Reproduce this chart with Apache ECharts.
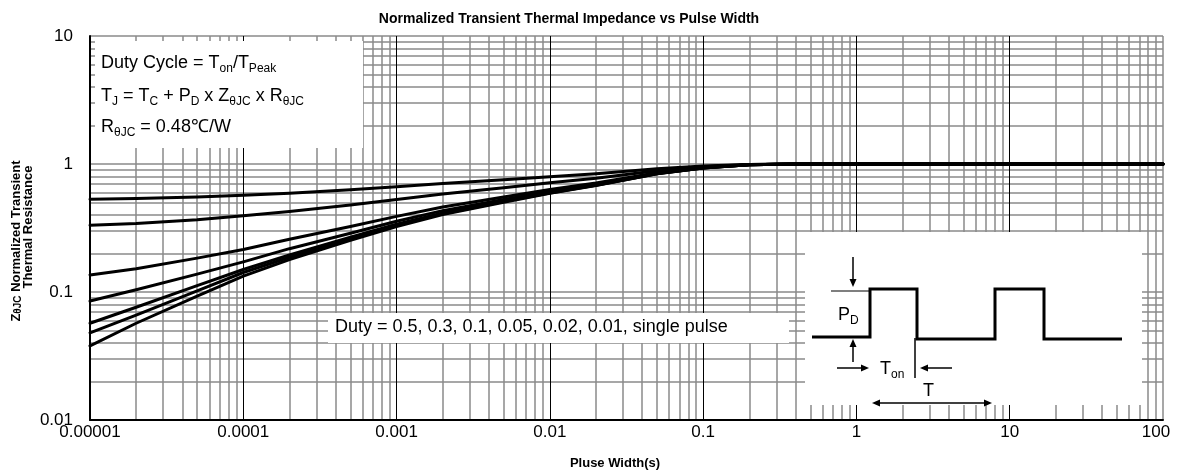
<!DOCTYPE html>
<html>
<head>
<meta charset="utf-8">
<title>Normalized Transient Thermal Impedance vs Pulse Width</title>
<script src="https://cdn.jsdelivr.net/npm/echarts@6/dist/echarts.min.js"></script>
<style>
  html, body { margin: 0; padding: 0; background: #fff; }
  #chart { width: 1184px; height: 475px; }
</style>
</head>
<body>
<div id="chart"></div>
<script>
const FONT = '"Liberation Sans", Arial, Helvetica, sans-serif';

// Pulse width (s) sample points
const pulseWidth = [1e-5, 2e-5, 5e-5, 1e-4, 2e-4, 5e-4, 1e-3, 2e-3, 5e-3, 1e-2, 2e-2, 5e-2, 0.1, 0.2, 0.4, 1, 10, 100];

// Normalized Z(thJC) for each duty cycle
const duty05  = [0.530, 0.537, 0.553, 0.570, 0.592, 0.628, 0.665, 0.703, 0.752, 0.795, 0.840, 0.920, 0.965, 0.993, 1, 1, 1, 1];
const duty03  = [0.332, 0.343, 0.367, 0.395, 0.426, 0.478, 0.528, 0.582, 0.652, 0.713, 0.775, 0.887, 0.951, 0.990, 1, 1, 1, 1];
const duty01  = [0.136, 0.152, 0.184, 0.215, 0.258, 0.325, 0.390, 0.462, 0.553, 0.631, 0.710, 0.854, 0.937, 0.987, 1, 1, 1, 1];
const duty005 = [0.085, 0.104, 0.138, 0.172, 0.218, 0.288, 0.357, 0.432, 0.528, 0.611, 0.694, 0.846, 0.934, 0.986, 1, 1, 1, 1];
const duty002 = [0.057, 0.076, 0.112, 0.150, 0.195, 0.268, 0.339, 0.415, 0.513, 0.598, 0.684, 0.841, 0.931, 0.985, 1, 1, 1, 1];
const duty001 = [0.048, 0.066, 0.102, 0.142, 0.187, 0.260, 0.332, 0.409, 0.508, 0.594, 0.681, 0.840, 0.931, 0.985, 1, 1, 1, 1];
const singlePulse = [0.038, 0.057, 0.093, 0.133, 0.179, 0.253, 0.325, 0.403, 0.503, 0.590, 0.678, 0.838, 0.930, 0.985, 1, 1, 1, 1];

const seriesNames = ['0.5', '0.3', '0.1', '0.05', '0.02', '0.01', 'single pulse'];
const seriesValues = [duty05, duty03, duty01, duty005, duty002, duty001, singlePulse];

// Tick labels
const xTickLabels = ['0.00001', '0.0001', '0.001', '0.01', '0.1', '1', '10', '100'];
const yTickLabels = ['0.01', '0.1', '1', '10'];

// Log-paper grid: 2..9 within every decade
const xDecades = [1e-5, 1e-4, 1e-3, 1e-2, 1e-1, 1, 10];
const yDecades = [0.01, 0.1, 1];
const grayX = [];
xDecades.forEach(d => { for (let k = 2; k <= 9; k++) grayX.push(k * d); });
grayX.push(100);
const grayY = [];
yDecades.forEach(d => { for (let k = 1; k <= 9; k++) if (d * k > 0.01) grayY.push(k * d); });
grayY.push(10);
const blackX = [1e-4, 1e-3, 1e-2, 1e-1, 1, 10];

const chart = echarts.init(document.getElementById('chart'), null, { renderer: 'canvas' });

const curveSeries = seriesValues.map((vals, i) => ({
  type: 'line',
  name: seriesNames[i],
  data: pulseWidth.map((x, j) => [x, vals[j]]),
  symbol: 'none',
  smooth: false,
  silent: true,
  z: 5,
  lineStyle: { color: '#000', width: 3, join: 'round', cap: 'round' }
}));

function gridLineSeries(xs, ys, color, width) {
  return {
    type: 'line',
    data: [],
    silent: true,
    z: 1,
    markLine: {
      silent: true,
      precision: 12,
      symbol: ['none', 'none'],
      label: { show: false },
      emphasis: { disabled: true },
      animation: false,
      lineStyle: { color: color, width: width, type: 'solid' },
      data: xs.map(v => ({ xAxis: v })).concat(ys.map(v => ({ yAxis: v })))
    }
  };
}

// Subscript rich styles
const richMain = {
  n: { fontSize: 18, fontFamily: FONT, color: '#000', lineHeight: 24 },
  s: { fontSize: 12, fontFamily: FONT, color: '#000', lineHeight: 12, verticalAlign: 'bottom' }
};

function txt(x, y, text, extra) {
  return Object.assign({
    type: 'text', x: x, y: y, z: 60,
    style: { text: text, rich: richMain, align: 'left', verticalAlign: 'middle', fill: '#000' }
  }, extra || {});
}
function seg(points, width) {
  return { type: 'polyline', z: 60, shape: { points: points }, style: { stroke: '#000', lineWidth: width, fill: null } };
}
function head(points) {
  return { type: 'polygon', z: 60, shape: { points: points }, style: { fill: '#000', stroke: null } };
}

const graphics = [
  // note boxes
  { type: 'rect', z: 50, shape: { x: 95, y: 41, width: 268, height: 107 }, style: { fill: '#fff' } },
  { type: 'rect', z: 50, shape: { x: 328, y: 313, width: 461, height: 30 }, style: { fill: '#fff' } },
  { type: 'rect', z: 50, shape: { x: 805, y: 232, width: 337, height: 173 }, style: { fill: '#fff' } },

  txt(101, 63, '{n|Duty Cycle = T}{s|on}{n|/T}{s|Peak}'),
  txt(101, 96, '{n|T}{s|J}{n| = T}{s|C}{n| + P}{s|D}{n| x Z}{s|θJC}{n| x R}{s|θJC}'),
  txt(101, 127, '{n|R}{s|θJC}{n| = 0.48℃/W}'),
  txt(335, 327, '{n|Duty = 0.5, 0.3, 0.1, 0.05, 0.02, 0.01, single pulse}'),

  // pulse train sketch
  seg([[812, 337], [870, 337], [870, 289], [917, 289], [917, 339], [995, 339], [995, 289], [1044, 289], [1044, 339], [1122, 339]], 3),
  seg([[831, 291], [870, 291]], 1.2),
  seg([[915, 338], [915, 378]], 1.5),
  seg([[853, 257], [853, 280]], 1.5), head([[853, 287], [849.5, 279], [856.5, 279]]),
  seg([[853, 362], [853, 346]], 1.5), head([[853, 339], [849.5, 347], [856.5, 347]]),
  seg([[837, 368], [861, 368]], 1.5), head([[869, 368], [861, 364.5], [861, 371.5]]),
  seg([[952, 368], [928, 368]], 1.5), head([[920, 368], [928, 364.5], [928, 371.5]]),
  seg([[880, 403], [984, 403]], 1.5),
  head([[872, 403], [880, 399.5], [880, 406.5]]),
  head([[992, 403], [984, 399.5], [984, 406.5]]),
  txt(838, 315, '{n|P}{s|D}'),
  txt(880, 369, '{n|T}{s|on}'),
  txt(923, 391, '{n|T}'),

  // axis titles
  {
    type: 'text', x: 16, y: 241, rotation: Math.PI / 2, z: 60,
    style: {
      text: '{b|Z}{bs|θJC}{b| Normalized Transient}',
      align: 'center', verticalAlign: 'middle', fill: '#000',
      rich: {
        b: { fontSize: 13, fontWeight: 'bold', fontFamily: FONT, color: '#000', lineHeight: 14 },
        bs: { fontSize: 10, fontWeight: 'bold', fontFamily: FONT, color: '#000', lineHeight: 8, verticalAlign: 'bottom' }
      }
    }
  },
  {
    type: 'text', x: 28, y: 227, rotation: Math.PI / 2, z: 60,
    style: { text: 'Thermal Resistance', align: 'center', verticalAlign: 'middle', fill: '#000',
      font: 'bold 13px ' + FONT }
  },
  {
    type: 'text', x: 615, y: 463, z: 60,
    style: { text: 'Pluse Width(s)', align: 'center', verticalAlign: 'middle', fill: '#000',
      font: 'bold 13px ' + FONT }
  }
];

chart.setOption({
  animation: false,
  backgroundColor: '#fff',
  title: {
    text: 'Normalized Transient Thermal Impedance vs Pulse Width',
    left: 564, top: 7, textAlign: 'center',
    textStyle: { fontSize: 14, fontWeight: 'bold', fontFamily: FONT, color: '#000' }
  },
  grid: { left: 90, right: 21, top: 36, bottom: 55, containLabel: false },
  xAxis: {
    type: 'log', logBase: 10, min: 1e-5, max: 100, splitNumber: 7, z: 10,
    axisLine: { show: true, onZero: false, lineStyle: { color: '#000', width: 2 } },
    axisTick: { show: false },
    splitLine: { show: false },
    axisLabel: {
      color: '#000', fontSize: 17, fontFamily: FONT, margin: 4,
      formatter: v => {
        const i = Math.round(Math.log10(v)) + 5;
        const t = xTickLabels[i];
        return i === xTickLabels.length - 1 ? '{r|' + t + '}' : t;
      },
      rich: { r: { fontSize: 17, fontFamily: FONT, color: '#000', padding: [0, 14, 0, 0] } }
    }
  },
  yAxis: {
    type: 'log', logBase: 10, min: 0.01, max: 10, splitNumber: 3, z: 10,
    axisLine: { show: true, onZero: false, lineStyle: { color: '#000', width: 2 } },
    axisTick: { show: false },
    splitLine: { show: false },
    axisLabel: {
      color: '#000', fontSize: 17, fontFamily: FONT, margin: 17,
      formatter: v => yTickLabels[Math.round(Math.log10(v)) + 2]
    }
  },
  graphic: { elements: graphics },
  series: [
    gridLineSeries(grayX, grayY, '#8a8a8a', 1.5),
    gridLineSeries(blackX, [], '#000', 1)
  ].concat(curveSeries)
});
</script>
</body>
</html>
